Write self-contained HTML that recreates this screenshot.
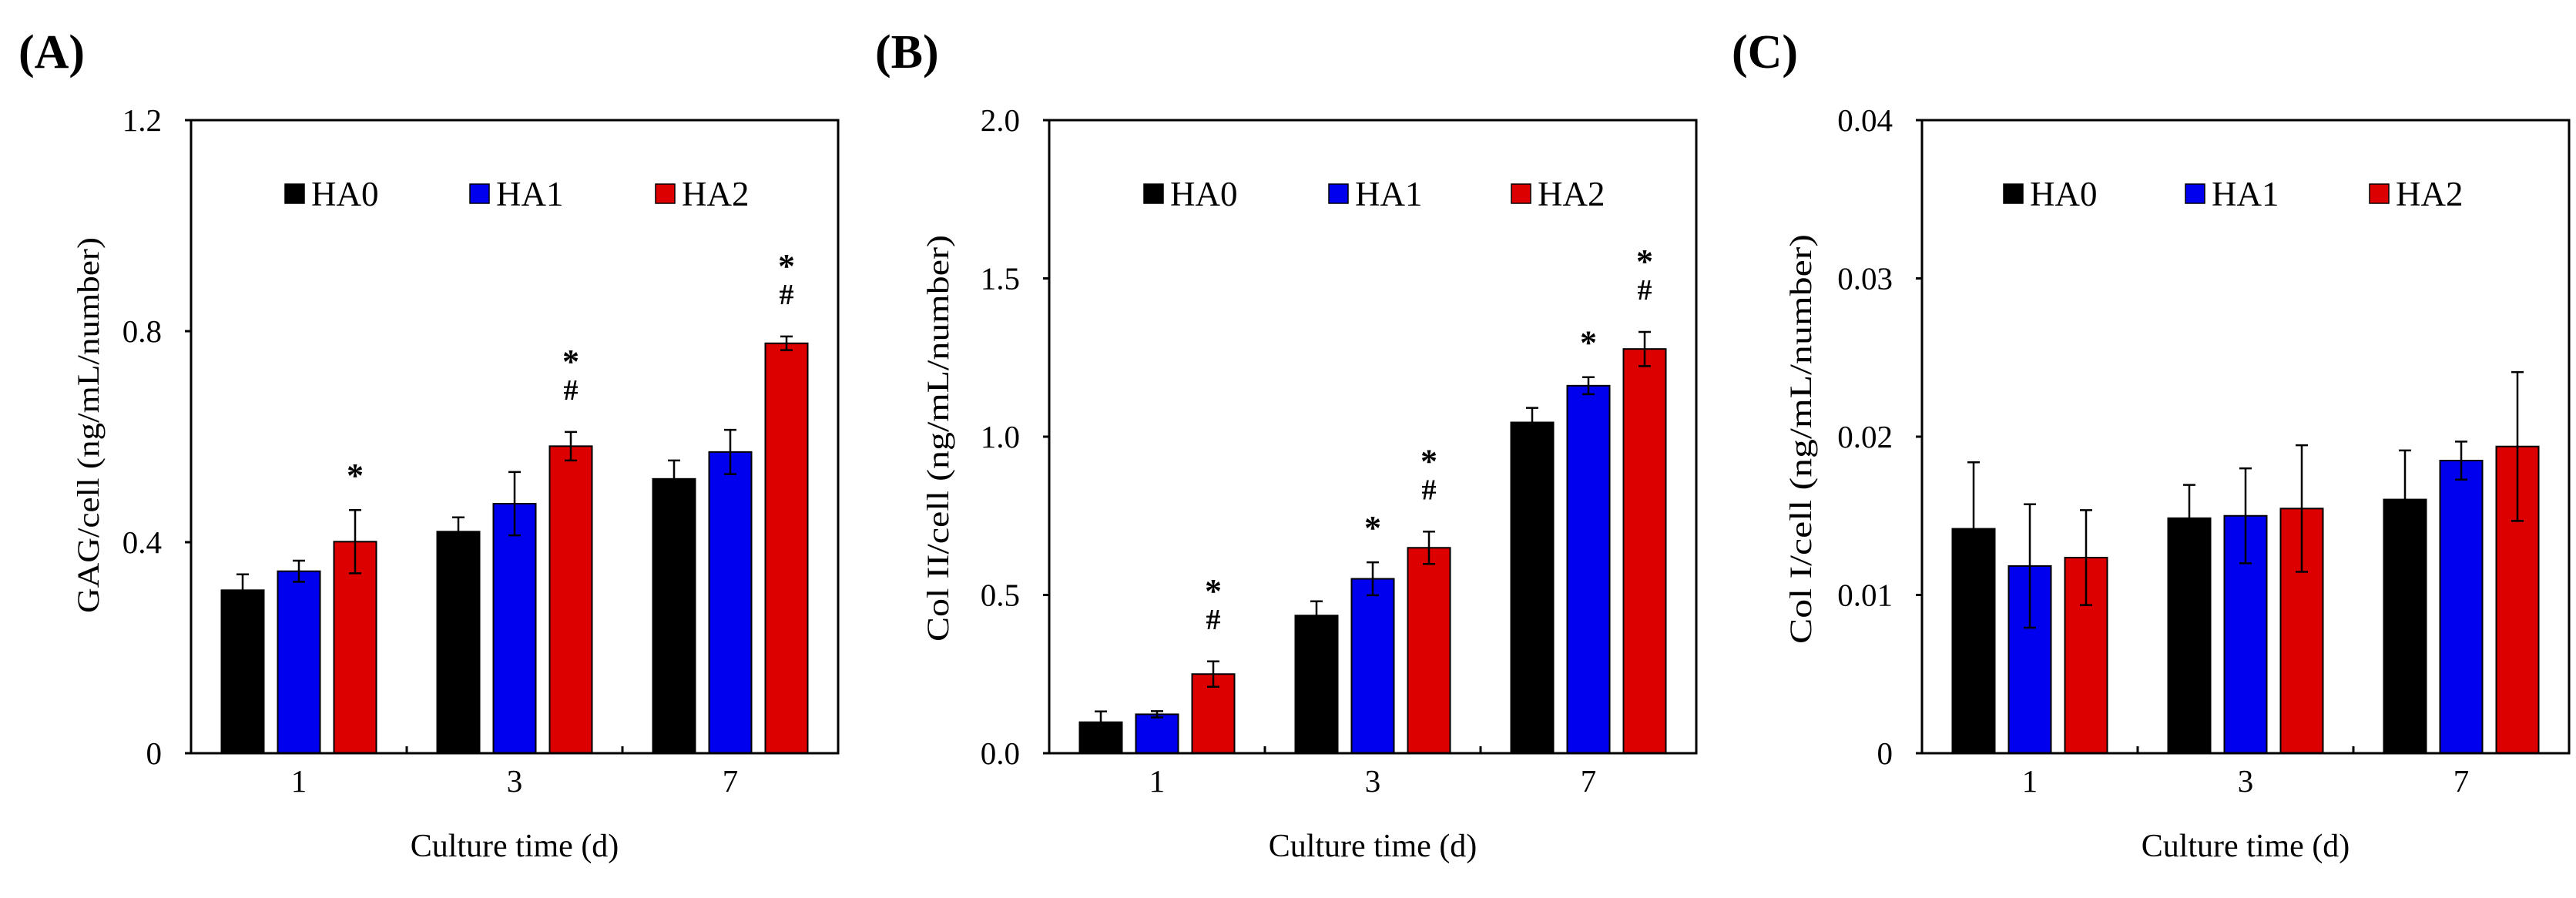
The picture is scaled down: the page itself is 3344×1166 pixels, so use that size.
<!DOCTYPE html>
<html><head><meta charset="utf-8">
<style>
html,body{margin:0;padding:0;background:#fff;}
svg{display:block;font-family:"Liberation Serif",serif;}
</style></head>
<body>
<svg id="fig" width="3344" height="1166" viewBox="0 0 3344 1166" xmlns="http://www.w3.org/2000/svg"></svg>
<script>
const categories = ["1","3","7"];
const seriesNames = ["HA0","HA1","HA2"];
const colors = ["#000000","#0000ee","#dd0000"];

const gagValues = [[0.309,0.42,0.52],[0.345,0.473,0.571],[0.401,0.582,0.777]];
const gagErrors = [[0.03,0.027,0.035],[0.02,0.06,0.042],[0.06,0.027,0.013]];
const gagTicks = ["0","0.4","0.8","1.2"];
const gagTickValues = [0,0.4,0.8,1.2];
const gagMarks = [["","",""],["","",""],["*","*#","*#"]];

const col2Values = [[0.098,0.435,1.045],[0.123,0.551,1.161],[0.25,0.649,1.277]];
const col2Errors = [[0.034,0.045,0.046],[0.01,0.052,0.027],[0.04,0.051,0.054]];
const col2Ticks = ["0.0","0.5","1.0","1.5","2.0"];
const col2TickValues = [0,0.5,1.0,1.5,2.0];
const col2Marks = [["","",""],["","*","*"],["*#","*#","*#"]];

const col1Values = [[0.01418,0.01485,0.01603],[0.01183,0.0150,0.01849],[0.01236,0.01546,0.01938]];
const col1Errors = [[0.0042,0.0021,0.0031],[0.0039,0.003,0.0012],[0.003,0.004,0.0047]];
const col1Ticks = ["0","0.01","0.02","0.03","0.04"];
const col1TickValues = [0,0.01,0.02,0.03,0.04];
const col1Marks = [["","",""],["","",""],["","",""]];

const NS="http://www.w3.org/2000/svg";
const svg=document.getElementById('fig');
function mk(tag,attrs,parent,text){const e=document.createElementNS(NS,tag);for(const k in attrs)e.setAttribute(k,attrs[k]);if(text!==undefined)e.textContent=text;(parent||svg).appendChild(e);return e;}

function panel(cfg){
  const g=mk('g',{});
  
  
  const L=cfg.left,R=cfg.left+840,T=156,B=978;
  const ymax=cfg.tickValues[cfg.tickValues.length-1];
  const y=v=>B-(v/ymax)*(B-T);
  const catW=(R-L)/categories.length;
  const xc=i=>L+catW*(i+0.5);
  const bw=55,step=73;
  // panel label
  const pl=mk('text',{x:cfg.labelX,y:88,'font-size':62,'font-weight':'bold'},g,cfg.label);
  
  
  // bars
  for(let s=0;s<seriesNames.length;s++){
    for(let c=0;c<categories.length;c++){
      const v=cfg.values[s][c],e=cfg.errors[s][c];
      const cx=xc(c)+(s-1)*step;
      const r=mk('rect',{x:cx-bw/2,y:y(v),width:bw,height:B-y(v),fill:colors[s],stroke:'#000','stroke-width':2},g);
      
      
      const eb=mk('path',{d:`M${cx},${y(v-e)}V${y(v+e)}M${cx-8},${y(v+e)}H${cx+8}M${cx-8},${y(v-e)}H${cx+8}`,stroke:'#000','stroke-width':2.5,fill:'none'},g);
      
      
      const m=cfg.marks[s][c];
      const top=y(v+e);
      if(m.includes('#')){
        const t=mk('text',{x:cx,y:top-42,'font-size':38,'font-weight':'bold','text-anchor':'middle'},g,'#');
        
        
      }
      if(m.includes('*')){
        const off=m.includes('#')?-77:-30;
        const t=mk('text',{x:cx,y:top+off,'font-size':44,'font-weight':'bold','text-anchor':'middle'},g,'*');
        
        
      }
    }
  }
  // frame
  const fr=mk('rect',{x:L,y:T,width:R-L,height:B-T,fill:'none',stroke:'#000','stroke-width':3},g);
  
  
  // y ticks
  for(let i=0;i<cfg.tickValues.length;i++){
    const yy=y(cfg.tickValues[i]);
    const tk=mk('line',{x1:L-8,x2:L,y1:yy,y2:yy,stroke:'#000','stroke-width':3},g);
    
    
    const tl=mk('text',{x:L-38,y:yy+14,'font-size':41,'text-anchor':'end'},g,cfg.ticks[i]);
    
    
  }
  // x ticks
  for(let c=1;c<categories.length;c++){
    const xx=L+catW*c;
    const tk=mk('line',{x1:xx,x2:xx,y1:B,y2:B-9,stroke:'#000','stroke-width':3},g);
    
    
  }
  for(let c=0;c<categories.length;c++){
    const tl=mk('text',{x:xc(c),y:1028,'font-size':41,'text-anchor':'middle'},g,categories[c]);
    
    
  }
  const xt=mk('text',{x:(L+R)/2,y:1112,'font-size':42,'text-anchor':'middle'},g,'Culture time (d)');
  
  
  const yt=mk('text',{x:0,y:0,'font-size':40,'text-anchor':'middle',transform:`translate(${cfg.titleX},${cfg.titleY}) rotate(-90)`,textLength:cfg.titleLen,lengthAdjust:'spacingAndGlyphs','xml:space':'preserve'},g,cfg.title);
  
  
  // legend
  for(let s=0;s<seriesNames.length;s++){
    const lx=L+cfg.legendX[s];
    const le=mk('g',{},g);
    
    
    mk('rect',{x:lx,y:239,width:25,height:25,fill:colors[s],stroke:'#000','stroke-width':1.5},le);
    mk('text',{x:lx+34,y:267,'font-size':45},le,seriesNames[s]);
  }
}

panel({id:'gag',label:'(A)',labelX:24,left:248,values:gagValues,errors:gagErrors,ticks:gagTicks,tickValues:gagTickValues,marks:gagMarks,
  title:'GAG/cell  (ng/mL/number)',titleX:128,titleY:552,titleLen:488,legendX:[122,362,603]});
panel({id:'col2',label:'(B)',labelX:1136,left:1362,values:col2Values,errors:col2Errors,ticks:col2Ticks,tickValues:col2TickValues,marks:col2Marks,
  title:'Col II/cell (ng/mL/number)',titleX:1231,titleY:569,titleLen:528,legendX:[123,363,600]});
panel({id:'col1',label:'(C)',labelX:2248,left:2495,values:col1Values,errors:col1Errors,ticks:col1Ticks,tickValues:col1TickValues,marks:col1Marks,
  title:'Col I/cell  (ng/mL/number)',titleX:2351,titleY:570,titleLen:532,legendX:[106,342,581]});
</script>
</body></html>
